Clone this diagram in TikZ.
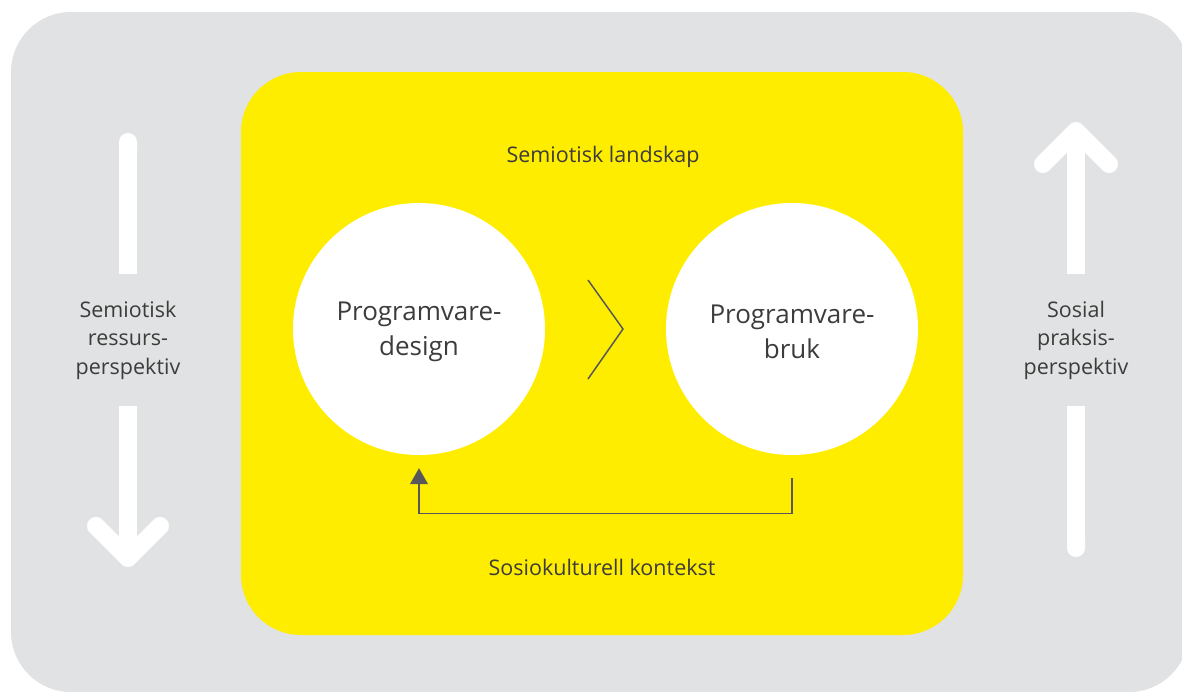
\documentclass[tikz,border=0pt]{standalone}
\usepackage{fontspec}
\setmainfont{Open Sans}
\usetikzlibrary{arrows.meta, positioning, calc}
\definecolor{framegray}{HTML}{E1E2E4}
\definecolor{landyellow}{HTML}{FFED00}
\definecolor{inkgray}{HTML}{3C3C3B}
\definecolor{linegray}{HTML}{58585A}

\begin{document}
\begin{tikzpicture}[x = 1pt, y = -1pt, font = \fontsize{21.5}{28.5}\selectfont, text = inkgray,
    sphere/.style = {circle, fill = white, minimum size = 252pt, inner sep = 0pt, align = center, font = \fontsize{26}{35}\selectfont},
    sidelabel/.style = {align = center, minimum height = 132pt, inner sep = 0pt},
    shaft/.style = {white, line width = 18pt},
    tiphead/.style = {white, line width = 18pt, line cap = round, line join = round},
    feedback/.style = {linegray, line width = 1.2pt, -{Triangle[width = 18pt, length = 16pt]}},
    chevron/.style = {linegray, line width = 1.5pt}]
    \useasboundingbox (0,0) rectangle (1182,691);
    \fill[framegray, rounded corners = 60pt]	(11,12) rectangle (1189,692);
    \fill[landyellow, rounded corners = 60pt]	(241,72) rectangle (963,635);
    \node					(landskap)	at (603,157)	{Semiotisk landskap};
    \node					(kontekst)	at (602,567)	{Sosiokulturell kontekst};
    \node[sphere]			(design)	at (419,329)	{\strut Programvare-\\design};
    \node[sphere]			(bruk)		at (792,329)	{\strut Programvare-\\bruk};
    \node[sidelabel]		(ressurs)	at (128,340)	{Semiotisk\\ressurs-\\perspektiv};
    \node[sidelabel]		(praksis)	at (1076,340)	{Sosial\\praksis-\\perspektiv};
    \coordinate (ressurstip) at (128,558);
    \coordinate (praksistip) at (1076,131);
    \coordinate (mid) at ($(design)!0.5!(bruk)$);
    % left arrow, pointing down
    \draw[shaft, {Round Cap}-]	(128,133) -- (ressurs.north);
    \draw[shaft]				(ressurs.south) -- (ressurstip);
    \draw[tiphead]	([shift={(-32,-32)}]ressurstip) -- (ressurstip) -- ([shift={(32,-32)}]ressurstip);
    % right arrow, pointing up
    \draw[shaft]				(praksis.north) -- (praksistip);
    \draw[shaft, -{Round Cap}]	(praksis.south) -- (1076,557);
    \draw[tiphead]	([shift={(-33,33)}]praksistip) -- (praksistip) -- ([shift={(33,33)}]praksistip);
    % design -> bruk and back
    \draw[chevron]	([shift={(-17.5,-49)}]mid) -- ([shift={(17.5,0)}]mid) -- ([shift={(-17.5,50)}]mid);
    \draw[feedback]	([yshift=-23pt]bruk.south) -- ++(0,35) -| ([yshift=-13pt]design.south);
\end{tikzpicture}
\end{document}
